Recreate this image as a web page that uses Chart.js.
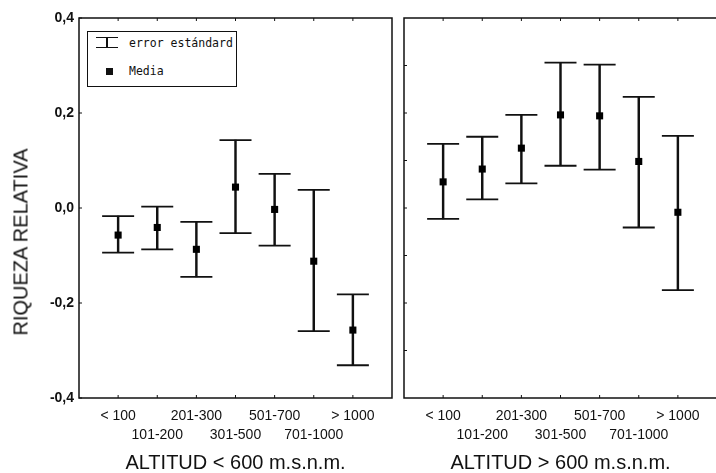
<!DOCTYPE html>
<html>
<head>
<meta charset="utf-8">
<script src="https://cdn.jsdelivr.net/npm/chart.js@4.4.1/dist/chart.umd.min.js"></script>
<style>
  html, body { margin: 0; padding: 0; background: #fff; overflow: hidden; width: 716px; height: 473px; }
  #wrap { position: relative; width: 716px; height: 473px; }
  #low { position: absolute; left: 0; top: 0; }
  #high { position: absolute; left: 396px; top: 0; }
  #ytitle {
    position: absolute; left: 21px; top: 242px;
    transform: translate(-50%, -50%) rotate(-90deg);
    font: 20px "Liberation Sans", Arial, sans-serif; color: #111; white-space: nowrap;
  }
  #legend {
    position: absolute; left: 87px; top: 31px; width: 150px; height: 56px;
    box-sizing: border-box; border: 1.5px solid #111; background: #fff;
    font: 11.5px "DejaVu Sans Mono", monospace; color: #111;
  }
  #legend .bar {
    position: absolute; left: 8px; top: 5px; width: 22px; height: 11px;
    box-sizing: border-box; border-top: 1.6px solid #111; border-bottom: 1.6px solid #111;
  }
  #legend .bar::after {
    content: ""; position: absolute; left: 10px; top: 0; width: 1.6px; height: 100%; background: #111;
  }
  #legend .sq { position: absolute; left: 18px; top: 36px; width: 7px; height: 7px; background: #111; }
  #legend .t1 { position: absolute; left: 41px; top: 4px; line-height: 14px; }
  #legend .t2 { position: absolute; left: 41px; top: 32px; line-height: 14px; }
</style>
</head>
<body>
<div id="wrap">
  <canvas id="low" width="396" height="473"></canvas>
  <canvas id="high" width="322" height="473"></canvas>
  <div id="ytitle">RIQUEZA RELATIVA</div>
  <div id="legend">
    <div class="bar"></div><span class="t1">error estándard</span>
    <div class="sq"></div><span class="t2">Media</span>
  </div>
</div>
<script>
// altitude classes (x axis)
const categories = ["< 100", "101-200", "201-300", "301-500", "501-700", "701-1000", "> 1000"];

// ALTITUD < 600 m.s.n.m.
const lowMean  = [-0.057, -0.041, -0.087,  0.044, -0.003, -0.112, -0.257];
const lowUpper = [-0.017,  0.003, -0.029,  0.143,  0.072,  0.038, -0.182];
const lowLower = [-0.094, -0.087, -0.145, -0.053, -0.079, -0.259, -0.331];

// ALTITUD > 600 m.s.n.m.
const highMean  = [ 0.055, 0.082, 0.126, 0.196, 0.194,  0.098, -0.009];
const highUpper = [ 0.135, 0.150, 0.196, 0.306, 0.302,  0.234,  0.152];
const highLower = [-0.023, 0.018, 0.052, 0.089, 0.081, -0.041, -0.173];

const yTicks = [-0.4, -0.2, 0, 0.2, 0.4];
const yMinorTicks = [-0.3, -0.2, -0.1, 0, 0.1, 0.2, 0.3];

const fmtComma = v => (Math.abs(v) < 1e-9 ? 0 : v).toFixed(1).replace(".", ",");

// box around the plot + small inward ticks
const framePlugin = {
  id: "frame",
  afterDatasetsDraw(chart, args, opts) {
    const a = chart.chartArea, ctx = chart.ctx;
    const xs = chart.scales.x, ys = chart.scales.y;
    ctx.save();
    ctx.strokeStyle = "#111";
    ctx.lineWidth = 1.5;
    ctx.strokeRect(a.left, a.top, a.right - a.left, a.bottom - a.top);
    ctx.lineWidth = 1;
    ctx.beginPath();
    categories.forEach((c, i) => {
      const px = xs.getPixelForValue(i + 1);
      ctx.moveTo(px, a.top); ctx.lineTo(px, a.top + 3);
      ctx.moveTo(px, a.bottom); ctx.lineTo(px, a.bottom - 3);
    });
    (opts.ticks || []).forEach(v => {
      const py = ys.getPixelForValue(v);
      ctx.moveTo(a.left, py); ctx.lineTo(a.left + 3, py);
    });
    ctx.stroke();
    ctx.restore();
  }
};

function makeChart(id, mean, upper, lower, title, showY, padding, minor) {
  const xs = categories.map((c, i) => i + 1);
  return new Chart(id, {
    type: "bar",
    data: {
      datasets: [
        {
          type: "scatter",
          data: xs.map((x, i) => ({ x: x, y: mean[i] })),
          pointStyle: "rect",
          pointRadius: 5,
          pointBackgroundColor: "#000",
          pointBorderWidth: 0,
          order: 1
        },
        {
          type: "scatter",
          data: xs.map((x, i) => ({ x: x, y: upper[i] })).concat(xs.map((x, i) => ({ x: x, y: lower[i] }))),
          pointStyle: "line",
          pointRadius: 16,
          pointBorderColor: "#111",
          pointBorderWidth: 1.8,
          order: 2
        },
        {
          type: "bar",
          data: xs.map((x, i) => ({ x: x, y: [lower[i], upper[i]] })),
          backgroundColor: "#111",
          barThickness: 1.8,
          order: 3
        }
      ]
    },
    options: {
      responsive: false,
      animation: false,
      layout: { padding: padding, autoPadding: false },
      plugins: { legend: { display: false }, tooltip: { enabled: false }, frame: { ticks: minor } },
      scales: {
        x: {
          type: "linear",
          min: 0, max: 8,
          offset: false,
          grid: { display: false, drawTicks: false },
          border: { display: false },
          afterBuildTicks: s => { s.ticks = xs.map(v => ({ value: v })); },
          ticks: {
            autoSkip: false,
            maxRotation: 0,
            padding: 9,
            color: "#111",
            font: { family: "Liberation Sans", size: 14, lineHeight: 1.35 },
            callback: v => {
              const c = categories[v - 1];
              if (c === undefined) return null;
              return (v % 2 === 1) ? [c, ""] : ["", c];
            }
          },
          title: {
            display: true,
            text: title,
            color: "#111",
            padding: { top: 0, bottom: 0 },
            font: { family: "Liberation Sans", size: 20, lineHeight: 1 }
          },
          afterFit: s => { s.height = 75; }
        },
        y: {
          display: showY,
          min: -0.4, max: 0.4,
          grid: { display: false, drawTicks: false },
          border: { display: false },
          afterBuildTicks: s => { s.ticks = yTicks.map(v => ({ value: v })); },
          ticks: {
            padding: 5,
            color: "#111",
            font: { family: "Liberation Sans", size: 14, weight: "bold" },
            callback: v => fmtComma(v)
          },
          afterFit: s => { if (showY) s.width = 79; }
        }
      }
    },
    plugins: [framePlugin]
  });
}

makeChart("low", lowMean, lowUpper, lowLower, "ALTITUD < 600 m.s.n.m.", true,
  { top: 18, right: 4, bottom: 0, left: 0 }, yTicks);
makeChart("high", highMean, highUpper, highLower, "ALTITUD > 600 m.s.n.m.", false,
  { top: 18, right: 1, bottom: 0, left: 8 }, yMinorTicks);
</script>
</body>
</html>
